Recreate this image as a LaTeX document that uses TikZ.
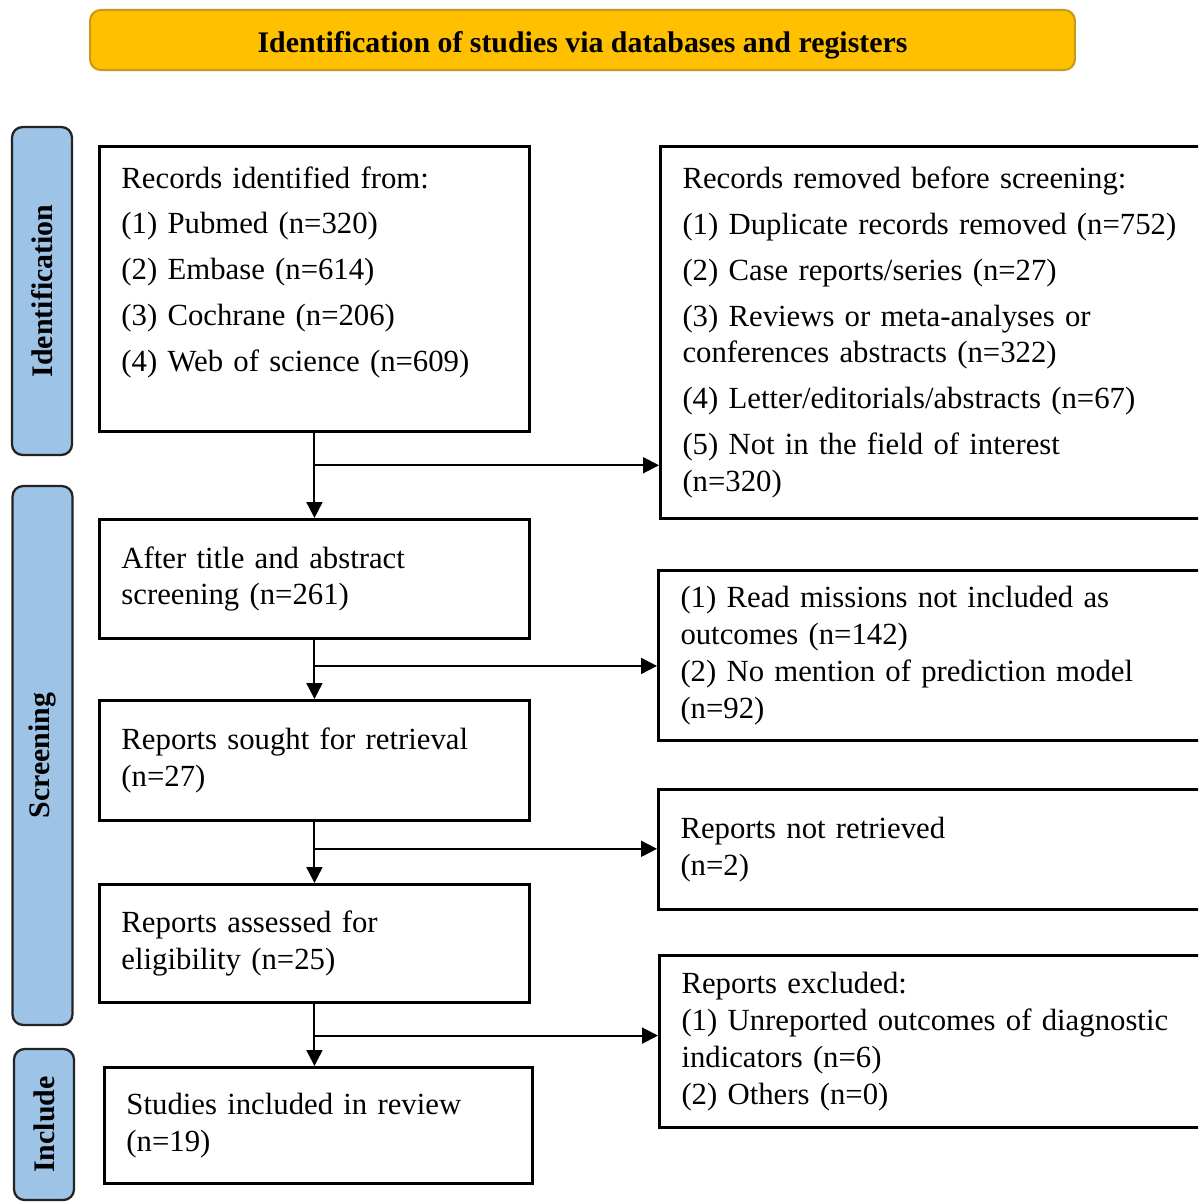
\documentclass[tikz,border=0pt]{standalone}
\usepackage{fontspec}
\setmainfont{Liberation Serif}
\usetikzlibrary{positioning, arrows.meta}
\definecolor{hdrgold}{RGB}{255,192,0}
\definecolor{hdredge}{RGB}{200,155,25}
\definecolor{lanefill}{RGB}{157,195,230}
\definecolor{laneedge}{RGB}{35,35,35}
\tikzset{
    headstyle/.style={rectangle, rounded corners=6pt, draw=hdredge, fill=hdrgold, line width=1.2pt, minimum width=19.7cm, minimum height=1.2cm, text height=0.5cm, text depth=0pt, font=\fontsize{17}{20}\selectfont\bfseries},
    lanestyle/.style={rectangle, rounded corners=6pt, draw=laneedge, fill=lanefill, line width=1.3pt, rotate=90, minimum height=1.2cm, font=\fontsize{17}{20}\selectfont\bfseries},
    box/.style={rectangle, draw=black, line width=1.7pt, anchor=north west, align=left, inner xsep=0.44cm, font=\fontsize{17.5}{21}\selectfont},
    leftbox/.style={box, minimum width=8.6cm, text width=7.72cm},
    rightbox/.style={box, minimum width=11.02cm, text width=10.6cm},
    arr/.style={-{Triangle[length=0.32cm, width=0.32cm]}, line width=1.1pt}
}

\begin{document}
\begin{tikzpicture}[x=0.02cm, y=-0.02cm]
    \useasboundingbox (0,0) rectangle (1198,1202);
    \clip (0,0) rectangle (1198,1202);
    \node[headstyle] at (582.5,40) (head) {Identification of studies via databases and registers};
    \node[lanestyle, minimum width=6.56cm] at (42,291) (lid) {Identification};
    \node[lanestyle, minimum width=10.78cm] at (42.5,755.5) (lsc) {Screening};
    \node[lanestyle, minimum width=3.02cm] at (44,1124.5) (lin) {Include};
    \node[leftbox, minimum height=5.7cm] at (98,145) (rec) {Records identified from:\\[0.18cm]
        (1) Pubmed (n=320)\\[0.18cm]
        (2) Embase (n=614)\\[0.18cm]
        (3) Cochrane (n=206)\\[0.18cm]
        (4) Web of science (n=609)\\[0.06cm]\mbox{}};
    \node[rightbox, minimum height=7.44cm] at (659,145) (rem) {Records removed before screening:\\[0.18cm]
        (1) Duplicate records removed (n=752)\\[0.18cm]
        (2) Case reports/series (n=27)\\[0.18cm]
        (3) Reviews or meta-analyses or\\
        conferences abstracts (n=322)\\[0.18cm]
        (4) Letter/editorials/abstracts (n=67)\\[0.18cm]
        (5) Not in the field of interest\\
        (n=320)};
    \node[leftbox, minimum height=2.38cm] at (98,518) (tab) {After title and abstract\\screening (n=261)};
    \node[rightbox, minimum height=3.4cm] at (657,569) (exa) {(1) Read missions not included as\\
        outcomes (n=142)\\
        (2) No mention of prediction model\\
        (n=92)};
    \node[leftbox, minimum height=2.4cm] at (98,699) (sou) {Reports sought for retrieval\\(n=27)};
    \node[rightbox, minimum height=2.4cm] at (657,788) (nre) {Reports not retrieved\\(n=2)};
    \node[leftbox, minimum height=2.36cm] at (98,883) (ass) {Reports assessed for\\eligibility (n=25)};
    \node[rightbox, minimum height=3.44cm] at (658,954) (exb) {Reports excluded:\\
        (1) Unreported outcomes of diagnostic\\
        indicators (n=6)\\
        (2) Others (n=0)};
    \node[leftbox, minimum width=8.56cm, text width=7.68cm, minimum height=2.32cm] at (103,1066) (inc) {Studies included in review\\(n=19)};
    \path (rec.south) -- coordinate[pos=0.38] (j1) (tab.north);
    \path (tab.south) -- coordinate[pos=0.44] (j2) (sou.north);
    \path (sou.south) -- coordinate[pos=0.44] (j3) (ass.north);
    \path (ass.south) -- coordinate[pos=0.51] (j4) (inc.north -| ass.south);
    \draw[arr] (rec.south) -- (tab.north);
    \draw[arr] (j1) -- (j1 -| rem.west);
    \draw[arr] (tab.south) -- (sou.north -| tab.south);
    \draw[arr] (j2) -- (j2 -| exa.west);
    \draw[arr] (sou.south) -- (ass.north -| sou.south);
    \draw[arr] (j3) -- (j3 -| nre.west);
    \draw[arr] (ass.south) -- (inc.north -| ass.south);
    \draw[arr] (j4) -- (j4 -| exb.west);
\end{tikzpicture}
\end{document}
